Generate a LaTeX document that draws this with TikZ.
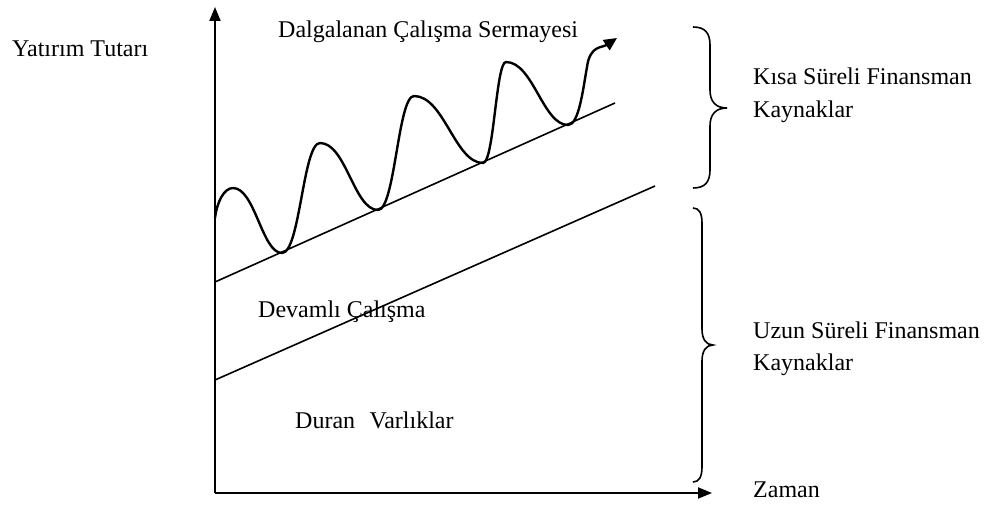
\documentclass[tikz,border=0pt]{standalone}
\usepackage{fontspec}
\setmainfont{Liberation Serif}
\usetikzlibrary{arrows.meta}
\begin{document}
\begin{tikzpicture}[x=1pt,y=1pt,
  lbl/.style={anchor=base west, inner sep=0pt, font=\fontsize{24}{28}\selectfont},
  axisline/.style={line width=2pt, -{Triangle[length=14pt,width=11pt]}},
  guide/.style={line width=1.6pt},
  wave/.style={line width=2.4pt, line join=round, -{Triangle[length=13pt,width=12pt]}},
  bracepath/.style={line width=1.6pt}
]
\useasboundingbox (0,0) rectangle (986,507);
% axes
\coordinate (O) at (215,14);
\coordinate (ytop) at (215,500);
\coordinate (xend) at (712,14);
\draw[axisline] (O) -- (ytop);
\draw[axisline] (O) -- (xend);
% guide lines
\coordinate (a1) at (215,225);
\coordinate (a2) at (615,404);
\coordinate (b1) at (215,127);
\coordinate (b2) at (655,321);
\draw[guide] (a1) -- (a2);
\draw[guide] (b1) -- (b2);
% wave
\coordinate (w0) at (215,289);
\coordinate (p1) at (233,319);
\coordinate (t1) at (282,254);
\coordinate (p2) at (320,364);
\coordinate (t2) at (378,297);
\coordinate (p3) at (414,411);
\coordinate (t3) at (483,344);
\coordinate (p4) at (506,445);
\coordinate (t4) at (568,382);
\coordinate (w5) at (587,440);
\coordinate (wend) at (617,469);
\draw[wave] (w0) .. controls (217,305) and (224,319) .. (p1)
  .. controls (255,319) and (262,254) .. (t1)
  .. controls (300,254) and (303,364) .. (p2)
  .. controls (346,364) and (354,297) .. (t2)
  .. controls (395,297) and (398,411) .. (p3)
  .. controls (444,411) and (455,344) .. (t3)
  .. controls (494,344) and (496,445) .. (p4)
  .. controls (533,445) and (543,382) .. (t4)
  .. controls (579,382) and (583,418) .. (w5)
  .. controls (590,462) and (602,459) .. (wend);
% braces
\draw[bracepath] (693,480) .. controls (705,480) and (710,474) .. (710,462) -- (710,417)
  .. controls (710,405) and (716,399) .. (727,399)
  .. controls (716,399) and (710,393) .. (710,381) -- (710,337)
  .. controls (710,325) and (705,319) .. (693,319);
\draw[bracepath] (693,299) .. controls (699,299) and (702,294) .. (702,284) -- (702,178)
  .. controls (702,168) and (706,162) .. (713,162)
  .. controls (706,162) and (702,156) .. (702,146) -- (702,40)
  .. controls (702,30) and (699,25) .. (693,25);
% labels
\node[lbl] (yt) at (12,450) {Yatırım Tutarı};
\node[lbl] (dcs) at (278,469) {Dalgalanan Çalışma Sermayesi};
\node[lbl] (ks1) at (753,422) {Kısa Süreli Finansman};
\node[lbl] (ks2) at (753,389) {Kaynaklar};
\node[lbl] (us1) at (753,169) {Uzun Süreli Finansman};
\node[lbl] (us2) at (753,137) {Kaynaklar};
\node[lbl] (zm) at (753,10) {Zaman};
\node[lbl] (dev) at (258,190) {Devamlı Çalışma};
\node[lbl] (dur) at (295,79) {Duran\hspace{0.6em}Varlıklar};
\end{tikzpicture}
\end{document}
